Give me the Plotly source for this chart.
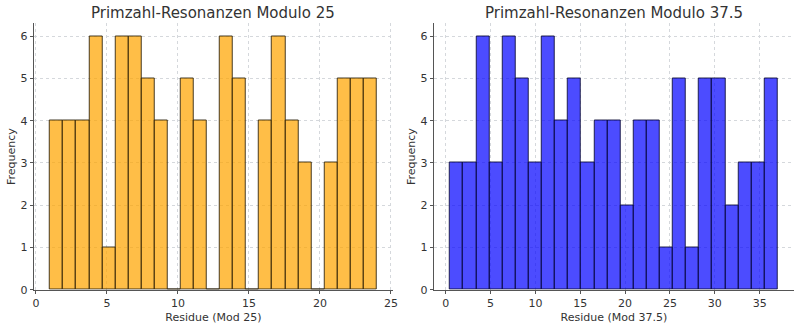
import numpy as np
import plotly.graph_objects as go

# Left histogram: residues mod 25, 25 bins from 1 to 24
left_bin_start = 1.0
left_bin_end = 24.0
left_counts = [4, 4, 4, 6, 1, 6, 6, 5, 4, 0, 5, 4, 0, 6, 5, 0, 4, 6, 4, 3, 0, 3, 5, 5, 5]

# Right histogram: residues mod 37.5, 25 bins from 0.5 to 37
right_bin_start = 0.5
right_bin_end = 37.0
right_counts = [3, 3, 6, 3, 6, 5, 3, 6, 4, 5, 3, 4, 4, 2, 4, 4, 1, 5, 1, 5, 5, 2, 3, 3, 5]

left_title = "Primzahl-Resonanzen Modulo 25"
right_title = "Primzahl-Resonanzen Modulo 37.5"
left_xlabel = "Residue (Mod 25)"
right_xlabel = "Residue (Mod 37.5)"
ylabel = "Frequency"


def bins(start, end, counts):
    n = len(counts)
    w = (end - start) / n
    centers = [start + w * (i + 0.5) for i in range(n)]
    return centers, w


lc, lw = bins(left_bin_start, left_bin_end, left_counts)
rc, rw = bins(right_bin_start, right_bin_end, right_counts)

fig = go.Figure()
fig.add_trace(go.Bar(x=lc, y=left_counts, width=lw, xaxis="x", yaxis="y",
                     marker=dict(color="rgba(255,165,0,0.72)",
                                 line=dict(color="rgba(40,30,10,0.85)", width=1)),
                     showlegend=False))
fig.add_trace(go.Bar(x=rc, y=right_counts, width=rw, xaxis="x2", yaxis="y2",
                     marker=dict(color="rgba(0,0,255,0.70)",
                                 line=dict(color="rgba(10,10,50,0.85)", width=1)),
                     showlegend=False))

font_family = "DejaVu Sans"
tick_font = dict(family=font_family, size=11, color="#333333")
title_font = dict(family=font_family, size=11, color="#333333")

def lpad(a, b):
    m = (b - a) * 0.05
    return [a - m, b + m]

common_x = dict(showline=True, linecolor="#555555", linewidth=1,
                showgrid=True, gridcolor="#d5d8dc", griddash="dot", gridwidth=0.8,
                ticks="outside", ticklen=3, tickcolor="#555555",
                tickfont=tick_font, zeroline=False, dtick=5, tick0=0,
                title_font=title_font)
common_y = dict(showline=True, linecolor="#555555", linewidth=1,
                showgrid=True, gridcolor="#d5d8dc", griddash="dot", gridwidth=0.8,
                ticks="outside", ticklen=3, tickcolor="#555555",
                tickfont=tick_font, zeroline=False, dtick=1, tick0=0,
                range=[0, 6.3], title_font=title_font)

y_dom = [1 - 296 / 332, 1 - 24 / 332]

fig.update_layout(
    width=806, height=332,
    margin=dict(l=0, r=0, t=0, b=0),
    paper_bgcolor="white", plot_bgcolor="white",
    bargap=0,
    xaxis=dict(domain=[33 / 806, 395 / 806], anchor="y",
               range=lpad(left_bin_start, left_bin_end),
               title=dict(text=left_xlabel, standoff=4), **common_x),
    yaxis=dict(domain=y_dom, anchor="x",
               title=dict(text=ylabel, standoff=2), **common_y),
    xaxis2=dict(domain=[436 / 806, 799 / 806], anchor="y2",
                range=lpad(right_bin_start, right_bin_end),
                title=dict(text=right_xlabel, standoff=4), **common_x),
    yaxis2=dict(domain=y_dom, anchor="x2",
                title=dict(text=ylabel, standoff=2), **common_y),
    annotations=[
        dict(text=left_title, x=(33 + 395) / 2 / 806, y=1 - 13 / 332,
             xref="paper", yref="paper", showarrow=False,
             font=dict(family=font_family, size=15, color="#333333"),
             xanchor="center", yanchor="middle"),
        dict(text=right_title, x=(436 + 799) / 2 / 806, y=1 - 13 / 332,
             xref="paper", yref="paper", showarrow=False,
             font=dict(family=font_family, size=15, color="#333333"),
             xanchor="center", yanchor="middle"),
    ],
)

fig.write_html("out.html")
